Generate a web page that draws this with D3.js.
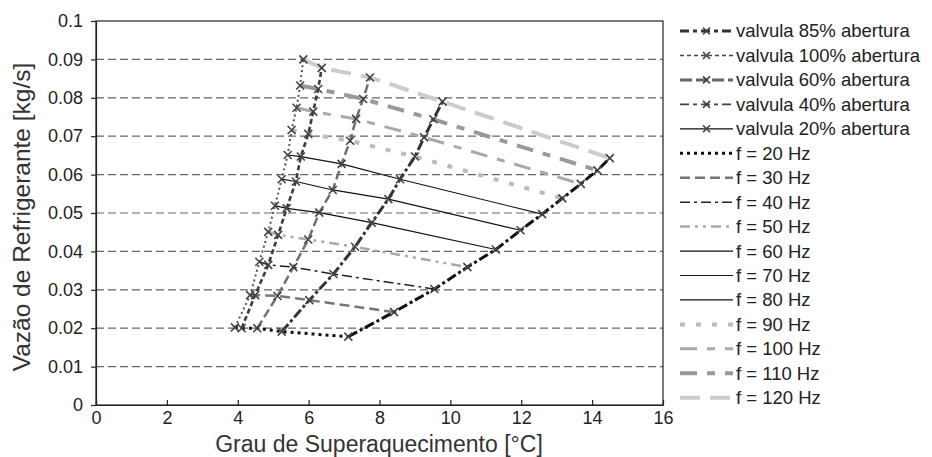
<!DOCTYPE html>
<html>
<head>
<meta charset="utf-8">
<script src="https://cdn.jsdelivr.net/npm/d3@7"></script>
<style>
  html, body { margin: 0; padding: 0; background: #fff; }
  svg { display: block; font-family: "Liberation Sans", Arial, sans-serif; }
</style>
</head>
<body>
<svg id="chart" width="932" height="457"></svg>
<script>
// Compressor frequencies (Hz), one point per frequency on every valve curve
const frequencies = [20, 30, 40, 50, 60, 70, 80, 90, 100, 110, 120];

// Valve openings, in drawing order (largest opening = lowest superheat)
const valves = ["100%", "85%", "60%", "40%", "20%"];

// Superheat [°C] for each valve, indexed by frequency
const superheat100 = [3.92, 4.35, 4.61, 4.86, 5.05, 5.24, 5.41, 5.52, 5.66, 5.76, 5.85];
const superheat85  = [4.11, 4.49, 4.86, 5.14, 5.38, 5.64, 5.78, 5.99, 6.13, 6.27, 6.37];
const superheat60  = [4.55, 5.12, 5.57, 5.99, 6.30, 6.68, 6.93, 7.17, 7.34, 7.54, 7.73];
const superheat40  = [5.24, 6.02, 6.70, 7.31, 7.78, 8.25, 8.58, 9.00, 9.26, 9.52, 9.78];
const superheat20  = [7.12, 8.41, 9.55, 10.48, 11.28, 11.98, 12.59, 13.16, 13.68, 14.15, 14.50];

// Refrigerant mass flow [kg/s] for each valve, indexed by frequency
const flow100 = [0.0202, 0.0286, 0.0373, 0.0451, 0.0519, 0.0588, 0.0651, 0.0716, 0.0774, 0.0832, 0.0900];
const flow85  = [0.0200, 0.0286, 0.0365, 0.0443, 0.0512, 0.0582, 0.0647, 0.0706, 0.0764, 0.0823, 0.0878];
const flow60  = [0.0200, 0.0284, 0.0359, 0.0431, 0.0501, 0.0560, 0.0628, 0.0688, 0.0745, 0.0797, 0.0853];
const flow40  = [0.0191, 0.0273, 0.0341, 0.0412, 0.0475, 0.0536, 0.0588, 0.0647, 0.0697, 0.0744, 0.0790];
const flow20  = [0.0178, 0.0242, 0.0302, 0.0359, 0.0405, 0.0455, 0.0497, 0.0538, 0.0576, 0.0611, 0.0643];

// Axis ticks
const xTicks = [0, 2, 4, 6, 8, 10, 12, 14, 16];
const yTicks = [0, 0.01, 0.02, 0.03, 0.04, 0.05, 0.06, 0.07, 0.08, 0.09, 0.1];

// Legend order
const legendValves = ["85%", "100%", "60%", "40%", "20%"];

const superheatByValve = { "100%": superheat100, "85%": superheat85, "60%": superheat60, "40%": superheat40, "20%": superheat20 };
const flowByValve = { "100%": flow100, "85%": flow85, "60%": flow60, "40%": flow40, "20%": flow20 };

// Line styles
const valveStyle = {
  "85%":  { stroke: "#3c3c3c", width: 2.6, dash: "5,3" },
  "100%": { stroke: "#555",    width: 2,   dash: "2,3" },
  "60%":  { stroke: "#707070", width: 2.5, dash: "9,4" },
  "40%":  { stroke: "#333",    width: 3,   dash: "10,3,3,3" },
  "20%":  { stroke: "#111",    width: 3,   dash: "10,3,3,3" }
};
const valveLegendStyle = {
  "85%":  { stroke: "#333", width: 3,   dash: "9,4,4,4" },
  "100%": { stroke: "#444", width: 1.6, dash: "4,3" },
  "60%":  { stroke: "#666", width: 3,   dash: "12,4" },
  "40%":  { stroke: "#444", width: 1.6, dash: "9,4,4,4" },
  "20%":  { stroke: "#111", width: 1.2, dash: null }
};
const freqStyle = {
  20:  { stroke: "#111", width: 3,   dash: "3,4" },
  30:  { stroke: "#777", width: 2.5, dash: "10,5" },
  40:  { stroke: "#222", width: 1.5, dash: "10,4,3,4" },
  50:  { stroke: "#aaa", width: 2.5, dash: "10,5,3,5,3,5" },
  60:  { stroke: "#111", width: 1.2, dash: null },
  70:  { stroke: "#111", width: 1.2, dash: null },
  80:  { stroke: "#111", width: 1.2, dash: null },
  90:  { stroke: "#bbb", width: 4,   dash: "5,11" },
  100: { stroke: "#aaa", width: 3,   dash: "17,10,8,10" },
  110: { stroke: "#999", width: 4,   dash: "17,10,8,10" },
  120: { stroke: "#ccc", width: 4,   dash: "20,10" }
};

const svg = d3.select("#chart");
const plot = { left: 96, right: 663, top: 21, bottom: 405 };

const x = d3.scaleLinear().domain([0, 16]).range([plot.left, plot.right]);
const y = d3.scaleLinear().domain([0, 0.1]).range([plot.bottom, plot.top]);

// Horizontal dashed gridlines
svg.append("g")
  .selectAll("line")
  .data(yTicks.filter(t => t > 0 && t < 0.1))
  .join("line")
  .attr("x1", plot.left).attr("x2", plot.right)
  .attr("y1", d => y(d)).attr("y2", d => y(d))
  .attr("stroke", "#666").attr("stroke-width", 1.2)
  .attr("stroke-dasharray", "8,4");

// Plot frame
svg.append("rect")
  .attr("x", plot.left).attr("y", plot.top)
  .attr("width", plot.right - plot.left).attr("height", plot.bottom - plot.top)
  .attr("fill", "none").attr("stroke", "#222").attr("stroke-width", 1.2);

// Axes
const xAxis = svg.append("g")
  .attr("transform", `translate(0,${plot.bottom})`)
  .call(d3.axisBottom(x).tickValues(xTicks).tickFormat(d3.format("d")).tickSizeInner(-5).tickSizeOuter(0).tickPadding(6));
const yAxis = svg.append("g")
  .attr("transform", `translate(${plot.left},0)`)
  .call(d3.axisLeft(y).tickValues(yTicks).tickFormat(d3.format("~g")).tickSizeInner(5).tickSizeOuter(0).tickPadding(8));
[xAxis, yAxis].forEach(a => {
  a.select(".domain").attr("stroke", "#222").attr("stroke-width", 1.2);
  a.selectAll(".tick line").attr("stroke", "#222").attr("stroke-width", 1.2);
  a.selectAll(".tick text").attr("fill", "#222").style("font-size", "18px")
    .style("font-family", "'Liberation Sans', Arial, sans-serif");
});

// Axis titles
svg.append("text")
  .attr("x", 379).attr("y", 452)
  .attr("text-anchor", "middle").attr("fill", "#333")
  .style("font-size", "23px")
  .text("Grau de Superaquecimento [°C]");
svg.append("text")
  .attr("transform", `translate(30,217) rotate(-90)`)
  .attr("text-anchor", "middle").attr("fill", "#333")
  .style("font-size", "24.5px")
  .text("Vazão de Refrigerante [kg/s]");

const line = d3.line().x(d => x(d[0])).y(d => y(d[1]));
const applyStyle = (sel, s) => sel
  .attr("fill", "none").attr("stroke", s.stroke).attr("stroke-width", s.width)
  .attr("stroke-dasharray", s.dash).attr("stroke-linejoin", "round");

// Constant-frequency lines across valve openings
const freqG = svg.append("g");
frequencies.forEach((f, i) => {
  const pts = valves.map(v => [superheatByValve[v][i], flowByValve[v][i]]);
  freqG.append("path").attr("d", line(pts)).call(applyStyle, freqStyle[f]);
});

// Constant-valve curves across frequencies
const valveG = svg.append("g");
valves.forEach(v => {
  const pts = frequencies.map((f, i) => [superheatByValve[v][i], flowByValve[v][i]]);
  valveG.append("path").attr("d", line(pts)).call(applyStyle, valveStyle[v]);
});

// Cross markers at every measured point
const cross = (g, cx, cy, r) => g.append("path")
  .attr("d", `M${cx - r},${cy - r}L${cx + r},${cy + r}M${cx - r},${cy + r}L${cx + r},${cy - r}`)
  .attr("stroke", "#444").attr("stroke-width", 1.6).attr("fill", "none");
const markG = svg.append("g");
valves.forEach(v => {
  frequencies.forEach((f, i) => cross(markG, x(superheatByValve[v][i]), y(flowByValve[v][i]), 4));
});

// Legend
const legend = svg.append("g");
const rowY = i => 31 + 24.45 * i;
const sx0 = 680, sx1 = 733, tx = 736;
legendValves.forEach((v, i) => {
  const yy = rowY(i);
  legend.append("line").attr("x1", sx0).attr("x2", sx1).attr("y1", yy).attr("y2", yy)
    .call(applyStyle, valveLegendStyle[v]);
  cross(legend, (sx0 + sx1) / 2, yy, 3.5);
  legend.append("text").attr("x", tx).attr("y", yy).attr("dy", "0.35em")
    .attr("fill", "#222").style("font-size", "18.5px")
    .text(`valvula ${v} abertura`);
});
frequencies.forEach((f, j) => {
  const yy = rowY(legendValves.length + j);
  legend.append("line").attr("x1", sx0).attr("x2", sx1).attr("y1", yy).attr("y2", yy)
    .call(applyStyle, freqStyle[f]);
  legend.append("text").attr("x", tx).attr("y", yy).attr("dy", "0.35em")
    .attr("fill", "#222").style("font-size", "18.5px")
    .text(`f = ${f} Hz`);
});
</script>
</body>
</html>
